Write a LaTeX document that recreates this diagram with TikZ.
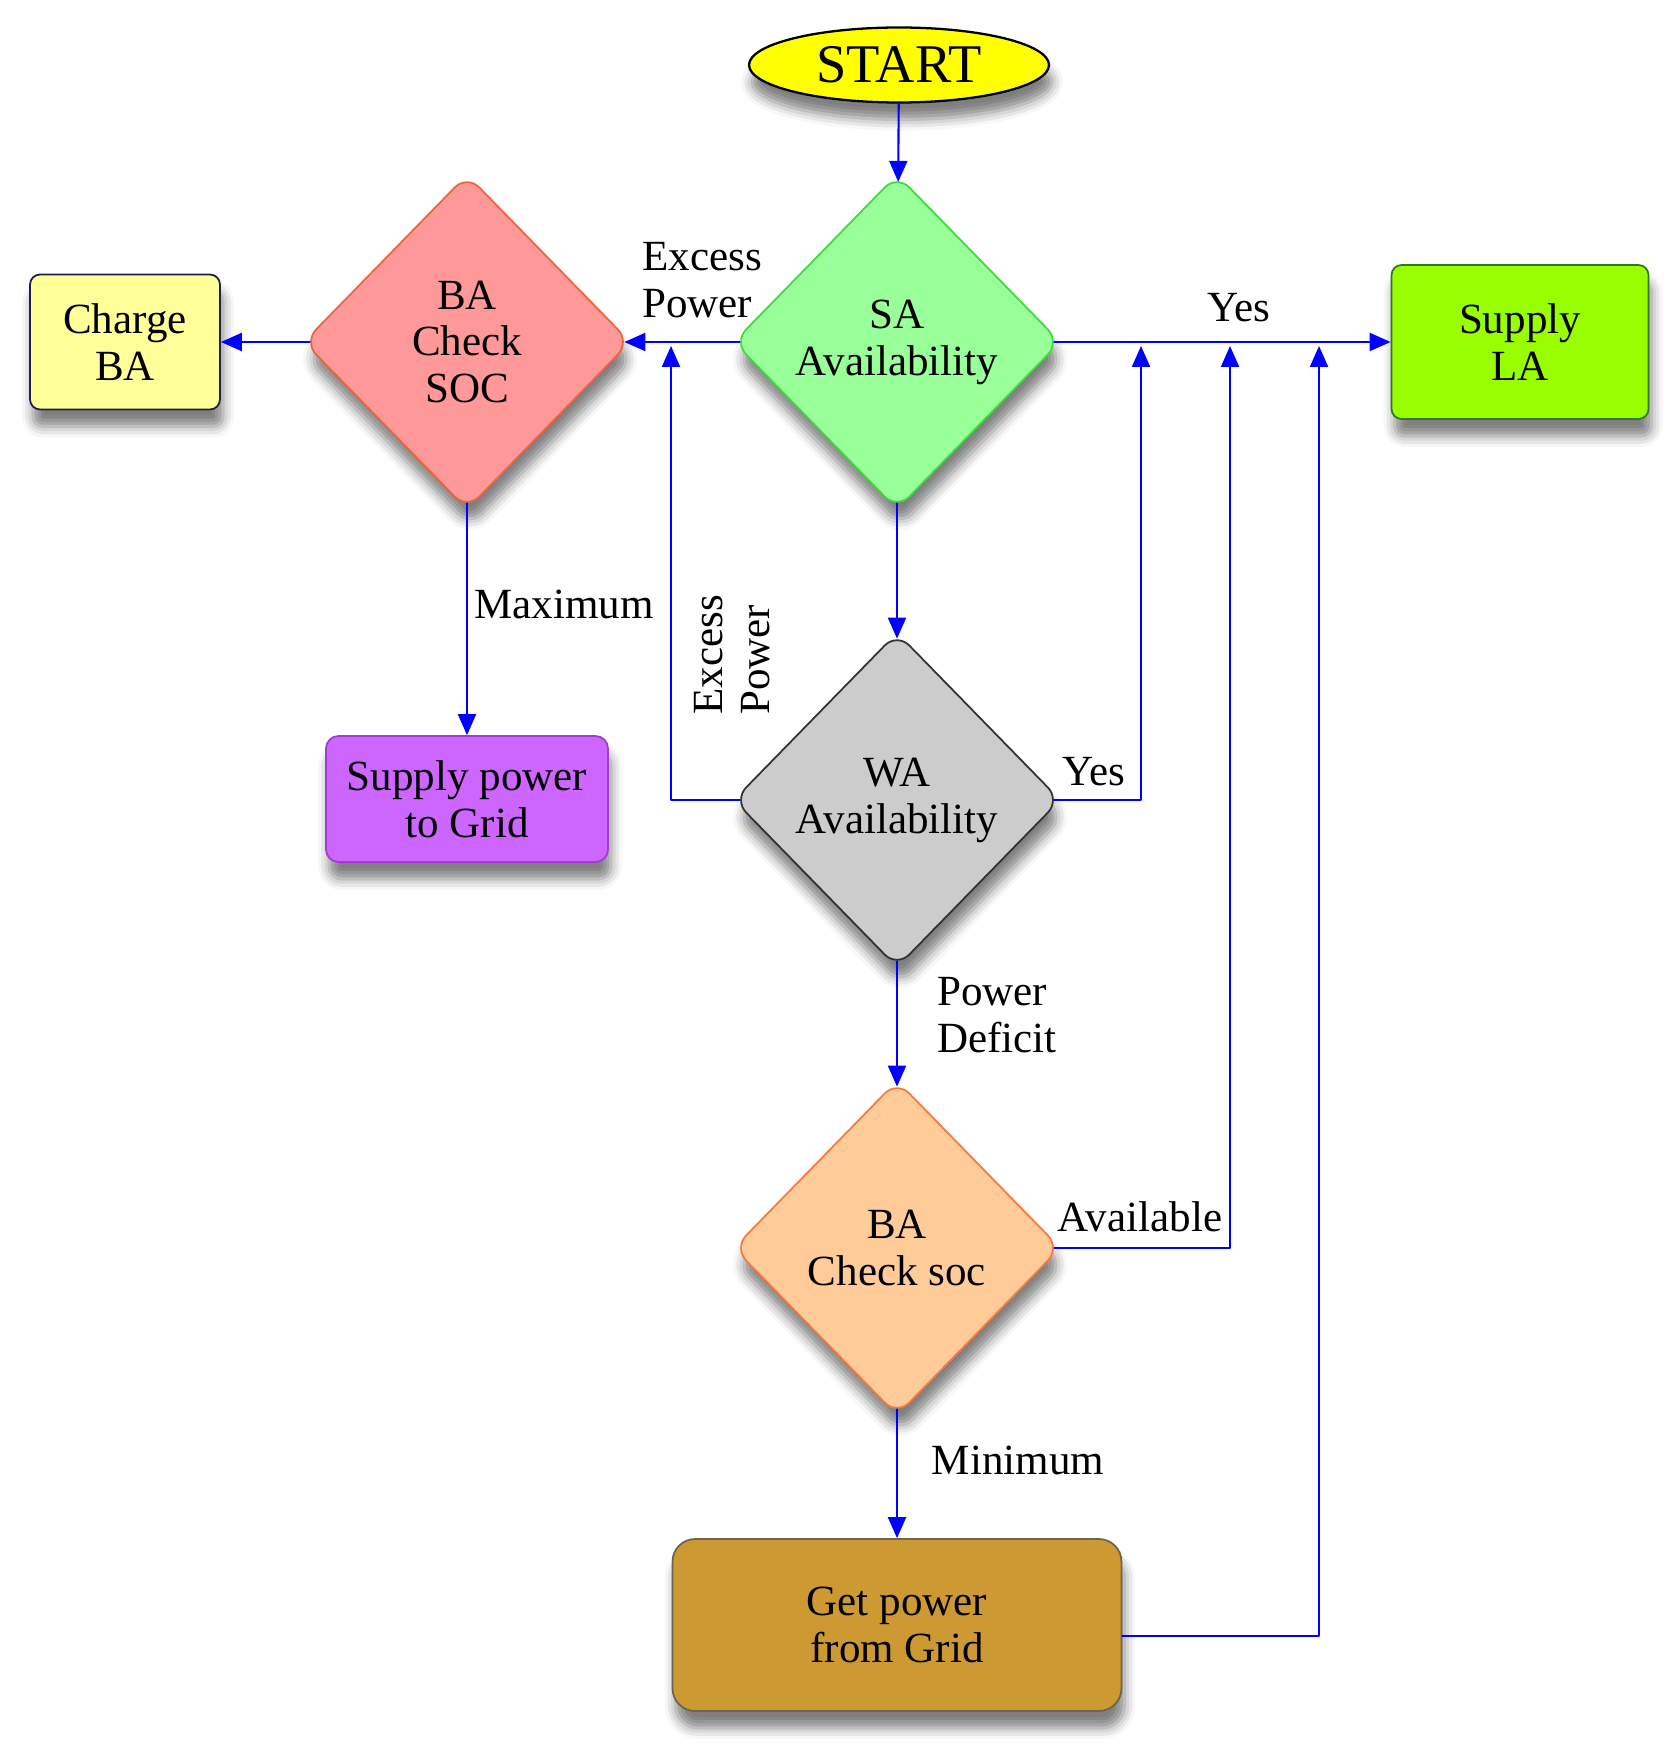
\documentclass[tikz,border=0pt]{standalone}
\usepackage{fontspec}
\setmainfont{Liberation Serif}
\usepackage{tikz}
\usetikzlibrary{arrows.meta,shapes.geometric,shadows.blur}
\definecolor{startfill}{RGB}{255,255,0}
\definecolor{safill}{RGB}{153,255,153}
\definecolor{saline}{RGB}{60,220,60}
\definecolor{bafill}{RGB}{255,153,153}
\definecolor{baline}{RGB}{240,100,60}
\definecolor{chargefill}{RGB}{255,255,153}
\definecolor{chargeline}{RGB}{30,30,70}
\definecolor{lafill}{RGB}{153,255,0}
\definecolor{laline}{RGB}{50,120,30}
\definecolor{wafill}{RGB}{204,204,204}
\definecolor{waline}{RGB}{50,50,50}
\definecolor{togridfill}{RGB}{204,102,255}
\definecolor{togridline}{RGB}{160,60,210}
\definecolor{socfill}{RGB}{255,204,153}
\definecolor{socline}{RGB}{250,120,60}
\definecolor{fromgridfill}{RGB}{204,153,51}
\definecolor{fromgridline}{RGB}{110,100,80}

\begin{document}
\begin{tikzpicture}[line cap=round,line join=round,>={Triangle[length=0.42cm,width=0.36cm]},x=0.02cm,y=-0.02cm,
    every node/.style={font=\fontsize{24.5}{26.7}\selectfont},
    shade box/.style={blur shadow={shadow xshift=0.06cm,shadow yshift=-0.34cm,shadow blur radius=0.22cm,shadow opacity=50}},
    flowbox/.style={rectangle,rounded corners=0.3cm,line width=1pt,align=center,inner sep=0pt,shade box},
    decision/.style={diamond,rounded corners=0.35cm,line width=1pt,align=center,inner sep=0pt,
        minimum width=6.54cm,minimum height=6.7cm,shade box},
    flowline/.style={->,line width=1.2pt,color=blue},
    intip/.style={shorten >=-0.14cm},
    outtip/.style={shorten <=-0.14cm}]
                \useasboundingbox (0,0) rectangle (1675,1753);
                % nodes
                \node [ellipse,fill=startfill,draw=black,line width=1.3pt,minimum width=6cm,minimum height=1.5cm,inner sep=0pt,shade box,
                    font=\fontsize{31}{34}\selectfont] (start) at (899,65) {START};
                \node [decision,fill=safill,draw=saline] (sa) at (897,342) {SA\\Availability};
                \node [decision,fill=bafill,draw=baline] (bachk) at (467,342) {BA\\Check\\SOC};
                \node [flowbox,fill=chargefill,draw=chargeline,minimum width=3.8cm,minimum height=2.7cm,rounded corners=0.2cm] (charge) at (125,342) {Charge\\BA};
                \node [flowbox,fill=lafill,draw=laline,minimum width=5.14cm,minimum height=3.08cm,rounded corners=0.2cm] (supplyla) at (1520,342) {Supply\\LA};
                \node [decision,fill=wafill,draw=waline] (wa) at (897,800) {WA\\Availability};
                \node [flowbox,fill=togridfill,draw=togridline,minimum width=5.64cm,minimum height=2.52cm,rounded corners=0.25cm] (togrid) at (467,799) {Supply power\\to Grid};
                \node [decision,fill=socfill,draw=socline] (basoc) at (897,1248) {BA\\Check soc};
                \node [flowbox,fill=fromgridfill,draw=fromgridline,minimum width=8.98cm,minimum height=3.44cm,rounded corners=0.45cm] (fromgrid) at (897,1625) {Get power\\from Grid};
                % free ends on the main line
                \coordinate (excessup) at (671,346);
                \coordinate (yesup) at (1141,346);
                \coordinate (availup) at (1230,346);
                \coordinate (gridup) at (1319,346);
                % connectors
                \draw [flowline,intip] (start) -- (sa);
                \draw [flowline,intip,outtip] (sa.west) -- (bachk.east);
                \draw [flowline,outtip] (bachk.west) -- (charge.east);
                \draw [flowline,outtip] (sa.east) -- (supplyla.west);
                \draw [flowline,outtip] (bachk.south) -- (togrid.north);
                \draw [flowline,intip,outtip] (sa.south) -- (wa.north);
                \draw [flowline,intip,outtip] (wa.south) -- (basoc.north);
                \draw [flowline,outtip] (basoc.south) -- (fromgrid.north);
                \draw [flowline,outtip] (wa.west) -| (excessup);
                \draw [flowline,outtip] (wa.east) -| (yesup);
                \draw [flowline,outtip] (basoc.east) -| (availup);
                \draw [flowline] ([yshift=-0.22cm]fromgrid.east) -| (gridup);
                % labels
                \node [anchor=west,align=left] (lexcess) at (636,280) {Excess\\Power};
                \node [anchor=west] (lmax) at (468,604) {Maximum};
                \node (lyes) at (1239,308) {Yes};
                \node [rotate=90,align=left] (lexcessup) at (732,655) {Excess\\Power};
                \node (lyeswa) at (1094,772) {Yes};
                \node [anchor=west,align=left] (ldeficit) at (931,1015) {Power\\Deficit};
                \node (lavail) at (1140,1217) {Available};
                \node (lmin) at (1018,1460) {Minimum};
            \end{tikzpicture}
\end{document}
